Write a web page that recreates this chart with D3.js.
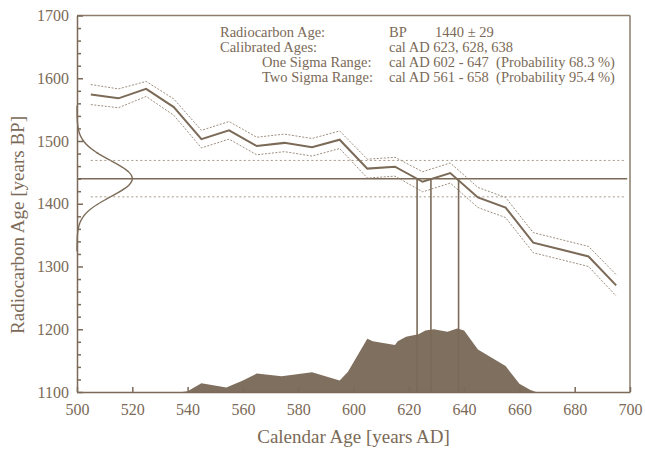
<!DOCTYPE html>
<html><head><meta charset="utf-8">
<script src="https://cdn.jsdelivr.net/npm/d3@7"></script>
<style>body{margin:0;background:#fff}</style>
</head><body><svg id="c" width="645" height="455"></svg>
<script>
// ---- data ----
const calYears = [505,515,525,535,545,555,565,575,585,595,605,615,625,635,645,655,665,675,685,695];
const calBP    = [1574,1568,1583,1554,1503,1517,1492,1497,1490,1502,1456,1459,1435,1449,1410,1394,1338,1327,1316,1270];
const calSigma = [16,15,12,13,14,14,14,14,14,14,15,15,16,16,16,16,16,16,16,17];
const probYears  = [500,538,540,545,554,560,565,574,585,595,598,605,607,615,616,619,623.5,626,629,634,637.5,640,645,655,660,664,666,700];
const probValues = [0,0,0.01,0.14,0.07,0.18,0.29,0.25,0.31,0.18,0.32,0.84,0.80,0.74,0.80,0.87,0.91,0.97,0.99,0.95,1.0,0.97,0.67,0.41,0.13,0.03,0,0];
const sampleBP = 1440, sampleSigma = 29;
const calibratedAges = [623,628,638];
const xTicks = [500,520,540,560,580,600,620,640,660,680,700];
const yTicks = [1100,1200,1300,1400,1500,1600,1700];
const infoLabels = ["Radiocarbon Age:","Calibrated Ages:","One Sigma Range:","Two Sigma Range:"];
const infoValues = ["cal AD 623, 628, 638","cal AD 602 - 647  (Probability 68.3 %)","cal AD 561 - 658  (Probability 95.4 %)"];

// ---- setup ----
const ink = "#7b6a57", fillC = "#7f6f5e", frameC = "#8c7d6c";
const font = "'Liberation Serif','Times New Roman',serif";
const svg = d3.select("#c");
const x = d3.scaleLinear().domain([500,700]).range([77,630]);
const y = d3.scaleLinear().domain([1100,1700]).range([392,15.5]);
const yProb = d3.scaleLinear().domain([0,1]).range([y(1100), y(1201)]);

// frame
svg.append("line").attr("x1",x(500)).attr("x2",x(700)).attr("y1",y(1700)).attr("y2",y(1700)).attr("stroke",frameC).attr("stroke-width",1.5);
svg.append("line").attr("x1",x(700)).attr("x2",x(700)).attr("y1",y(1700)).attr("y2",y(1100)).attr("stroke",frameC).attr("stroke-width",1.5);

// probability distribution
svg.append("path").datum(probYears.map((d,i)=>[d,probValues[i]]))
  .attr("d", d3.area().x(d=>x(d[0])).y0(y(1100)).y1(d=>yProb(d[1])))
  .attr("fill", fillC);

// sample gaussian on y axis
const gs = d3.range(sampleBP-4*sampleSigma, sampleBP+4*sampleSigma+0.1, 2);
const gAmp = d3.scaleLinear().domain([0,1]).range([x(500), x(520)]);
svg.append("path").datum(gs)
  .attr("d", d3.line().x(b=>gAmp(Math.exp(-0.5*((b-sampleBP)/sampleSigma)**2))).y(b=>y(b)).curve(d3.curveBasis))
  .attr("fill","none").attr("stroke",ink).attr("stroke-width",1.4);

// horizontal lines
svg.append("line").attr("x1",x(500)).attr("x2",x(699)).attr("y1",y(sampleBP)).attr("y2",y(sampleBP))
  .attr("stroke",ink).attr("stroke-width",1.5);
[sampleBP+sampleSigma, sampleBP-sampleSigma].forEach(v=>{
  svg.append("line").attr("x1",x(505)).attr("x2",x(698)).attr("y1",y(v)).attr("y2",y(v))
    .attr("stroke","#a89a8a").attr("stroke-width",1).attr("stroke-dasharray","2,2.5");
});

// calibration curve
const calPts = calYears.map((d,i)=>({yr:d,bp:calBP[i],s:calSigma[i]}));
svg.append("path").datum(calPts).attr("d", d3.line().x(d=>x(d.yr)).y(d=>y(d.bp)))
  .attr("fill","none").attr("stroke",ink).attr("stroke-width",2);
[1,-1].forEach(k=>{
  svg.append("path").datum(calPts).attr("d", d3.line().x(d=>x(d.yr)).y(d=>y(d.bp+k*d.s)))
    .attr("fill","none").attr("stroke","#9d8f80").attr("stroke-width",1).attr("stroke-dasharray","2,1.5");
});

// vertical lines at calibrated ages
calibratedAges.forEach(a=>{
  svg.append("line").attr("x1",x(a)).attr("x2",x(a)).attr("y1",y(sampleBP)).attr("y2",y(1100))
    .attr("stroke",ink).attr("stroke-width",1.6);
});

// axes
const yAx = svg.append("g").attr("transform",`translate(${x(500)},0)`)
  .call(d3.axisLeft(y).tickValues(yTicks).tickFormat(d3.format("d")).tickSizeInner(-6).tickSizeOuter(0).tickPadding(8));
const yMinor = svg.append("g").attr("transform",`translate(${x(500)},0)`)
  .call(d3.axisLeft(y).tickValues(d3.range(1120,1700,20).filter(v=>v%100)).tickFormat("").tickSizeInner(-4).tickSizeOuter(0));
yMinor.select(".domain").remove();
const xAx = svg.append("g").attr("transform",`translate(0,${y(1100)})`)
  .call(d3.axisBottom(x).tickValues(xTicks).tickFormat(d3.format("d")).tickSizeInner(-5).tickSizeOuter(0).tickPadding(12));
[yAx,yMinor,xAx].forEach(g=>{
  g.selectAll("path,line").attr("stroke",ink).attr("stroke-width",1.5);
  g.selectAll("text").attr("fill",ink).attr("font-family",font).attr("font-size",16);
});

// axis titles
svg.append("text").attr("x",(x(500)+x(700))/2).attr("y",443).attr("text-anchor","middle")
  .attr("font-family",font).attr("font-size",19).attr("fill",ink).text("Calendar Age [years AD]");
svg.append("text").attr("transform",`translate(24,225) rotate(-90)`).attr("text-anchor","middle")
  .attr("font-family",font).attr("font-size",19).attr("fill",ink).text("Radiocarbon Age [years BP]");

// info text
const fs = 14.5;
const lineY = [37,52,67,82];
const labX = [220,220,262,262];
infoLabels.forEach((t,i)=>{
  svg.append("text").attr("x",labX[i]).attr("y",lineY[i]).attr("font-family",font).attr("font-size",fs).attr("fill",ink).text(t);
});
svg.append("text").attr("x",389).attr("y",lineY[0]).attr("font-family",font).attr("font-size",fs).attr("fill",ink).text("BP");
svg.append("text").attr("x",435).attr("y",lineY[0]).attr("font-family",font).attr("font-size",fs).attr("fill",ink).text(`${sampleBP} ± ${sampleSigma}`);
infoValues.forEach((t,i)=>{
  svg.append("text").attr("x",389).attr("y",lineY[i+1]).attr("font-family",font).attr("font-size",fs).attr("fill",ink)
    .style("white-space","pre").text(t);
});
</script></body></html>
